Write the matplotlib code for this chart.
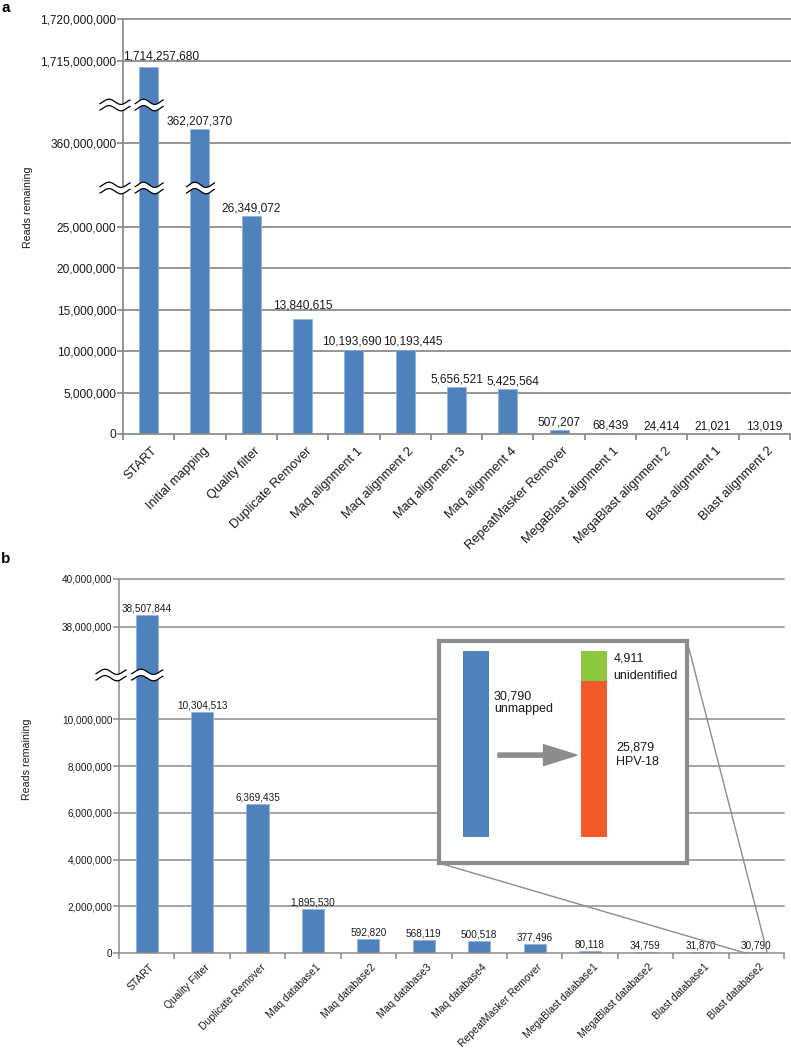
import numpy as np
import matplotlib
matplotlib.use('Agg')
import matplotlib.pyplot as plt
import matplotlib.transforms as mtransforms
from matplotlib.patches import Polygon, ConnectionPatch
from matplotlib.lines import Line2D

plt.rcParams['font.family'] = ['Liberation Sans', 'DejaVu Sans']

# ---------------- data ----------------
cats_a = ['START', 'Initial mapping', 'Quality filter', 'Duplicate Remover',
          'Maq alignment 1', 'Maq alignment 2', 'Maq alignment 3', 'Maq alignment 4',
          'RepeatMasker Remover', 'MegaBlast alignment 1', 'MegaBlast alignment 2',
          'Blast alignment 1', 'Blast alignment 2']
vals_a = [1714257680, 362207370, 26349072, 13840615, 10193690, 10193445,
          5656521, 5425564, 507207, 68439, 24414, 21021, 13019]
ticks_a_top = [1715000000, 1720000000]
ticks_a_mid = [360000000]
ticks_a_bot = [0, 5000000, 10000000, 15000000, 20000000, 25000000]

cats_b = ['START', 'Quality Filter', 'Duplicate Remover', 'Maq database1',
          'Maq database2', 'Maq database3', 'Maq database4', 'RepeatMasker Remover',
          'MegaBlast database1', 'MegaBlast database2', 'Blast database1',
          'Blast database2']
vals_b = [38507844, 10304513, 6369435, 1895530, 592820, 568119, 500518,
          377496, 80118, 34759, 31870, 30790]
ticks_b_top = [38000000, 40000000]
ticks_b_bot = [0, 2000000, 4000000, 6000000, 8000000, 10000000]

inset_unmapped = 30790
inset_unidentified = 4911
inset_hpv = 25879

# ---------------- style ----------------
BLUE = '#4F81BD'
EDGE = '#8FB0D8'
GRID = '#8C8C8C'
TXT = '#1a1a1a'
ORANGE = '#F15A2B'
GREEN = '#8DC63F'

W, H = 791, 1050
fig = plt.figure(figsize=(W / 100, H / 100), dpi=100)


def px_axes(left, top, right, bottom, **kw):
    return fig.add_axes([left / W, 1 - bottom / H, (right - left) / W, (bottom - top) / H], **kw)


def style_seg(ax, n, ticks, ylim, fs, glw, bottom):
    ax.set_xlim(-0.5, n - 0.5)
    ax.set_ylim(*ylim)
    ax.set_facecolor('white')
    for s in ['top', 'right']:
        ax.spines[s].set_visible(False)
    ax.spines['left'].set_color(GRID)
    ax.spines['left'].set_linewidth(glw)
    ax.spines['bottom'].set_color(GRID)
    ax.spines['bottom'].set_linewidth(glw)
    if not bottom:
        ax.spines['bottom'].set_visible(False)
        ax.set_xticks([])
    ax.set_yticks(ticks)
    ax.set_yticklabels([f'{t:,}' for t in ticks], fontsize=fs, color=TXT)
    ax.tick_params(axis='y', length=4, width=glw, color=GRID, pad=0.8)
    for t in ticks:
        if t != 0:
            ax.axhline(t, color=GRID, lw=glw, zorder=0.5, clip_on=False)


def draw_panel(axes_list, cats, vals, ticks_list, ylims, width, fs_tick, fs_val,
               fs_x, glw, xpad, special=None):
    n = len(cats)
    x = np.arange(n)
    for k, ax in enumerate(axes_list):
        bottom = (k == len(axes_list) - 1)
        style_seg(ax, n, ticks_list[k], ylims[k], fs_tick, glw, bottom)
        ax.bar(x, vals, width=width, color=BLUE, edgecolor=EDGE, linewidth=0.5, zorder=2)
        if bottom:
            ax.set_xticks(x)
            ax.set_xticklabels(cats, rotation=45, ha='right', va='top',
                               rotation_mode='anchor', fontsize=fs_x, color=TXT)
            ax.tick_params(axis='x', which='major', length=0, pad=xpad)
            ax.set_xticks(np.arange(-0.5, n, 1.0), minor=True)
            ax.tick_params(axis='x', which='minor', length=4, width=glw, color=GRID)
            shift = mtransforms.ScaledTranslation(2 / 72, 0, fig.dpi_scale_trans)
            for lab in ax.get_xticklabels():
                lab.set_transform(lab.get_transform() + shift)
    # value labels
    for i, v in enumerate(vals):
        for k, ax in enumerate(axes_list):
            lo, hi = ylims[k]
            if lo <= v <= hi:
                off = (0, 1.2)
                if special and i in special:
                    off = special[i]
                ax.annotate(f'{v:,}', xy=(i, v), xytext=off, textcoords='offset points',
                            ha='center', va='bottom', fontsize=fs_val, color=TXT,
                            zorder=6)
                break


def squiggle(x0, x1, yc):
    t = np.linspace(0, 1, 80)
    xs = x0 + (x1 - x0) * t
    wave = 2.6 * np.sin(2 * np.pi * 1.25 * t - np.pi / 4)
    y_up = yc + 3.2 + wave
    y_lo = yc - 3.2 + wave
    poly = np.concatenate([np.c_[xs, y_up], np.c_[xs[::-1], y_lo[::-1]]])
    poly = poly / np.array([W, H])
    fig.add_artist(Polygon(poly, closed=True, transform=fig.transFigure,
                           facecolor='white', edgecolor='none', zorder=10))
    for yy in (y_up, y_lo):
        fig.add_artist(Line2D(xs / W, yy / H, transform=fig.transFigure,
                              color='black', lw=0.9, zorder=11))


def add_breaks(axes_list, ylims, vals, width):
    for k in range(len(axes_list) - 1):
        upper = axes_list[k]
        lower_top = ylims[k + 1][1]
        x_sp, yc = upper.transAxes.transform((0, 0))
        squiggle(x_sp - 23, x_sp + 7, yc)
        for i, v in enumerate(vals):
            if v > lower_top:
                xl = upper.transData.transform((i - width / 2, 0))[0]
                xr = upper.transData.transform((i + width / 2, 0))[0]
                squiggle(xl - 4, xr + 5, yc)


# ---------------- panel a ----------------
a_top = px_axes(123, 19, 790, 105)
a_mid = px_axes(123, 105, 790, 188)
a_bot = px_axes(123, 188, 790, 434)
ylims_a = [(1709760000, 1720000000), (353000000, 365950000), (0, 29710000)]
draw_panel([a_top, a_mid, a_bot], cats_a, vals_a,
           [ticks_a_top, ticks_a_mid, ticks_a_bot], ylims_a,
           width=0.37, fs_tick=8.6, fs_val=8.6, fs_x=9.3, glw=1.3, xpad=8,
           special={0: (9, 3.5), 3: (0, 6), 4: (-1.8, 1.2), 5: (5.5, 1.2), 7: (4, 1.2)})
add_breaks([a_top, a_mid, a_bot], ylims_a, vals_a, 0.37)

# ---------------- panel b ----------------
b_top = px_axes(119, 579, 784, 675)
b_bot = px_axes(119, 675, 784, 953)
ylims_b = [(36000000, 40000000), (0, 11905000)]
draw_panel([b_top, b_bot], cats_b, vals_b, [ticks_b_top, ticks_b_bot], ylims_b,
           width=0.40, fs_tick=7.2, fs_val=7.2, fs_x=7.5, glw=1.1, xpad=6.5)
add_breaks([b_top, b_bot], ylims_b, vals_b, 0.40)

# ---------------- inset ----------------
ins = px_axes(439, 641, 687, 863, zorder=8)
ins.set_facecolor('white')
ins.set_xlim(-0.3136, 1.788)
ins.set_ylim(-4304, 32445)
ins.set_xticks([])
ins.set_yticks([])
for s in ins.spines.values():
    s.set_color(GRID)
    s.set_linewidth(3)
ins.bar([0], [inset_unmapped], width=0.22, color=BLUE, zorder=2)
ins.bar([1], [inset_hpv], width=0.22, color=ORANGE, zorder=2)
ins.bar([1], [inset_unidentified], bottom=[inset_hpv], width=0.22, color=GREEN, zorder=2)
tk = dict(transform=ins.transAxes, fontsize=9, color=TXT, ha='left', va='center')
ins.text(0.222, 0.748, f'{inset_unmapped:,}', **tk)
ins.text(0.222, 0.694, 'unmapped', **tk)
ins.text(0.706, 0.919, f'{inset_unidentified:,}', **tk)
ins.text(0.702, 0.842, 'unidentified', **tk)
ins.text(0.714, 0.5225, f'{inset_hpv:,}', **tk)
ins.text(0.714, 0.455, 'HPV-18', **tk)
ins.annotate('', xy=(0.556, 0.486), xytext=(0.238, 0.486),
             xycoords='axes fraction', textcoords='axes fraction',
             arrowprops=dict(arrowstyle='simple,head_length=2.4,head_width=1.5,tail_width=0.3',
                             mutation_scale=10, color=GRID, shrinkA=0, shrinkB=0))

last = len(cats_b) - 1
for xyA, xb in [((0, 0), last - 0.2), ((1, 1), last + 0.2)]:
    con = ConnectionPatch(xyA=xyA, coordsA=ins.transAxes, xyB=(xb, 0),
                          coordsB=b_bot.transData, color=GRID, lw=1.0, zorder=7)
    fig.add_artist(con)

# ---------------- labels ----------------
fig.text(2 / W, 1 - 1 / H, 'a', fontsize=11, fontweight='bold', va='top', ha='left')
fig.text(1 / W, 1 - 552 / H, 'b', fontsize=11, fontweight='bold', va='top', ha='left')
fig.text(28 / W, 1 - 207 / H, 'Reads remaining', rotation=90, ha='center', va='center',
         fontsize=7.7, color=TXT)
fig.text(27 / W, 1 - 759 / H, 'Reads remaining', rotation=90, ha='center', va='center',
         fontsize=7.7, color=TXT)

fig.savefig('out.png', dpi=100)
